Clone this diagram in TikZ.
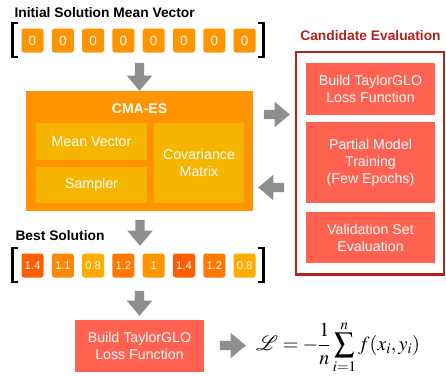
\documentclass[tikz,border=0pt]{standalone}
\usepackage{mathptmx}
\usepackage{mathrsfs}
\usepackage[no-math]{fontspec}
\setmainfont{Liberation Sans}
\usetikzlibrary{shapes.arrows}
\definecolor{cmaorange}{RGB}{255,147,0}
\definecolor{cmainner}{RGB}{245,181,0}
\definecolor{evalred}{RGB}{255,98,80}
\definecolor{framered}{RGB}{178,34,24}
\definecolor{arrowgray}{RGB}{142,142,142}
\definecolor{vA}{RGB}{255,94,0}
\definecolor{vB}{RGB}{255,120,0}
\definecolor{vC}{RGB}{255,135,0}
\definecolor{vD}{RGB}{255,149,0}
\definecolor{vE}{RGB}{255,171,0}
\begin{document}
\begin{tikzpicture}[x=1pt,y=-1pt,
  txt/.style={font=\fontsize{14.2}{17}\selectfont, text=white, align=center},
  ttl/.style={font=\fontsize{13.8}{16.5}\selectfont\bfseries},
  cell/.style={rounded corners=2.5pt, minimum width=22pt, minimum height=24pt, inner sep=0pt, text=white},
  zcell/.style={cell, fill=cmaorange, font=\fontsize{13.5}{15}\selectfont},
  bcell/.style={cell, font=\fontsize{11.2}{13}\selectfont},
  boxr/.style={fill=evalred, draw=none},
  blockarrow/.style={single arrow, fill=arrowgray, draw=none, inner xsep=0pt, inner ysep=4.5pt,
     single arrow head extend=8pt, single arrow tip angle=80, minimum height=26pt},
  brk/.style={line width=2.6pt, line cap=butt}
]
\useasboundingbox (0,0) rectangle (446,375);

% --- initial vector
\node[ttl, anchor=base west] (t1) at (11,17) {Initial Solution Mean Vector};
\foreach \i in {0,...,7} {
  \node[zcell] (z\i) at ({32.5+30.3*\i},40.5) {0};
}
\draw[brk] (18,23) -- (12.5,23) -- (12.5,57) -- (18,57);
\draw[brk] (258,23) -- (263.5,23) -- (263.5,57) -- (258,57);

\node[blockarrow, rotate=-90, minimum height=28pt] (a1) at (139.5,74) {};

% --- CMA-ES
\fill[cmaorange] (26,91) rectangle (253,211);
\node[txt, font=\fontsize{14}{16.5}\selectfont\bfseries, anchor=base] (cmat) at (139.5,113) {CMA-ES};
\node[txt, fill=cmainner, minimum width=111pt, minimum height=37pt, inner sep=0pt] (mv) at (91.5,141.5) {Mean Vector};
\node[txt, fill=cmainner, minimum width=111pt, minimum height=36pt, inner sep=0pt] (smp) at (91.5,185) {Sampler};
\node[txt, fill=cmainner, minimum width=90pt, minimum height=80pt, inner sep=0pt] (cov) at (199,163) {Covariance\\Matrix};

% --- arrows to / from evaluation
\node[blockarrow] (a2) at (274,114.5) {};
\node[blockarrow, rotate=180] (a3) at (274,187.5) {};

% --- Candidate evaluation
\node[ttl, text=framered, anchor=base] (t3) at (370.5,40) {Candidate Evaluation};
\draw[framered, line width=2.5pt] (296,52) rectangle (444,274.5);
\node[txt, boxr, minimum width=129pt, minimum height=52pt, inner sep=0pt] (e1) at (370.5,89) {Build TaylorGLO\\Loss Function};
\node[txt, boxr, minimum width=129pt, minimum height=81pt, inner sep=0pt] (e2) at (370.5,162.5) {Partial Model\\Training\\(Few Epochs)};
\node[txt, boxr, minimum width=129pt, minimum height=51pt, inner sep=0pt] (e3) at (370.5,237.5) {Validation Set\\Evaluation};

\node[blockarrow] (a4) at (140,230) [rotate=-90] {};

% --- best solution
\node[ttl, anchor=base west] (t2) at (12,240) {Best Solution};
\node[bcell, fill=vA] (b0) at ({32.5+30.3*0},265.5) {1.4};
\node[bcell, fill=vC] (b1) at ({32.5+30.3*1},265.5) {1.1};
\node[bcell, fill=vE] (b2) at ({32.5+30.3*2},265.5) {0.8};
\node[bcell, fill=vB] (b3) at ({32.5+30.3*3},265.5) {1.2};
\node[bcell, fill=vD] (b4) at ({32.5+30.3*4},265.5) {1};
\node[bcell, fill=vA] (b5) at ({32.5+30.3*5},265.5) {1.4};
\node[bcell, fill=vB] (b6) at ({32.5+30.3*6},265.5) {1.2};
\node[bcell, fill=vE] (b7) at ({32.5+30.3*7},265.5) {0.8};
\draw[brk] (18,248) -- (12.5,248) -- (12.5,282) -- (18,282);
\draw[brk] (258,248) -- (263.5,248) -- (263.5,282) -- (258,282);

\node[blockarrow, rotate=-90, minimum height=25pt] (a5) at (139.5,300.5) {};

% --- final
\node[txt, boxr, minimum width=129pt, minimum height=52pt, inner sep=0pt] (fin) at (139.5,346) {Build TaylorGLO\\Loss Function};
\node[blockarrow] (a6) at (230,345.5) {};
\node[anchor=west, inner sep=0pt, font=\fontsize{20}{24}\selectfont] (loss) at (256,347)
  {$\displaystyle \mathscr{L} = -\frac{1}{n}\sum_{i=1}^{n} f(x_i, y_i)$};
\end{tikzpicture}
\end{document}
